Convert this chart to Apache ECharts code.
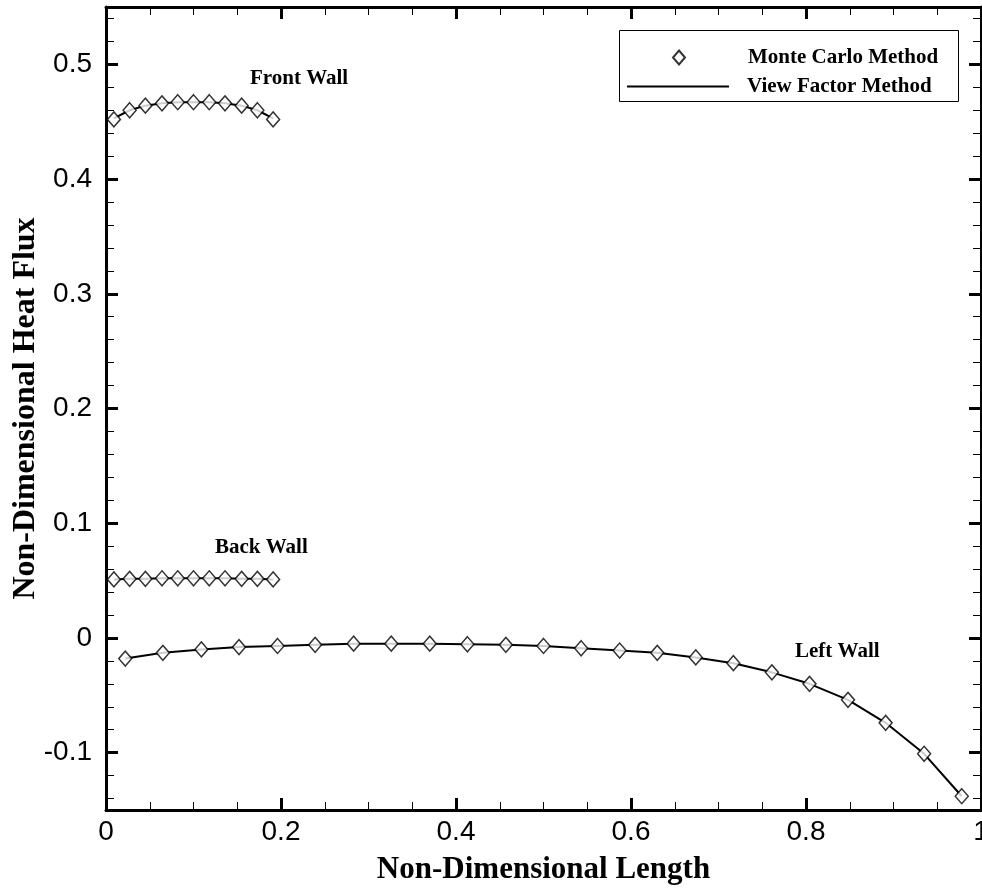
<!DOCTYPE html>
<html lang="en">
<head>
<meta charset="UTF-8">
<script src="https://cdn.jsdelivr.net/npm/echarts@6/dist/echarts.min.js"></script>
<title>Heat Flux</title>
<style>html,body{margin:0;padding:0;background:#fff;}</style>
</head>
<body>
<div id="chart" style="width:982px;height:890px;"></div>
<script>
// x positions of the front / back wall cells
var wallX = [0.009, 0.027, 0.045, 0.064, 0.082, 0.100, 0.118, 0.136, 0.155, 0.173, 0.191];
var frontMC = [0.452, 0.460, 0.464, 0.466, 0.467, 0.467, 0.467, 0.466, 0.464, 0.460, 0.452];
var frontVF = [0.453, 0.460, 0.464, 0.466, 0.467, 0.467, 0.467, 0.466, 0.464, 0.460, 0.453];
var backMC = [0.051, 0.0515, 0.0515, 0.052, 0.052, 0.052, 0.052, 0.052, 0.0515, 0.0515, 0.051];
var backVF = [0.051, 0.0515, 0.0515, 0.052, 0.052, 0.052, 0.052, 0.052, 0.0515, 0.0515, 0.051];

// x positions of the left wall cells
var leftX = [0.022, 0.065, 0.109, 0.152, 0.196, 0.239, 0.283, 0.326, 0.370, 0.413, 0.457, 0.500,
             0.543, 0.587, 0.630, 0.674, 0.717, 0.761, 0.804, 0.848, 0.891, 0.935, 0.978];
var leftMC = [-0.018, -0.013, -0.010, -0.008, -0.007, -0.006, -0.005, -0.005, -0.005, -0.0055, -0.006, -0.007,
              -0.009, -0.011, -0.013, -0.017, -0.022, -0.030, -0.040, -0.054, -0.074, -0.101, -0.138];
var leftVF = [-0.018, -0.013, -0.010, -0.008, -0.007, -0.006, -0.005, -0.005, -0.005, -0.0055, -0.006, -0.007,
              -0.009, -0.011, -0.013, -0.017, -0.022, -0.030, -0.040, -0.054, -0.074, -0.101, -0.138];

var MC = 'Monte Carlo Method';
var VF = 'View Factor Method';

function pairs(xs, ys) {
    return xs.map(function (x, i) { return [x, ys[i]]; });
}

var serif = '"Liberation Serif", "Times New Roman", serif';
var sans = '"Liberation Sans", Arial, sans-serif';

function lineSeries(xs, ys) {
    return {
        name: VF, type: 'line', data: pairs(xs, ys),
        symbol: 'none', showSymbol: false, z: 2, animation: false,
        itemStyle: {color: '#000'},
        lineStyle: {color: '#000', width: 2}
    };
}
function dotSeries(xs, ys) {
    return {
        name: MC, type: 'scatter', data: pairs(xs, ys),
        symbol: 'diamond', symbolSize: [13, 15], z: 3, animation: false,
        itemStyle: {color: '#fff', borderColor: '#000', borderWidth: 1.5}
    };
}

function xAxisOf(pos, showLabel) {
    return {
        type: 'value', position: pos, min: 0, max: 1, interval: 0.2,
        axisLine: {show: true, onZero: false, lineStyle: {color: '#000', width: 3}},
        axisTick: {show: true, inside: true, length: 12, lineStyle: {color: '#000', width: 3}},
        minorTick: {show: true, splitNumber: 4, length: 8, lineStyle: {color: '#000', width: 1}},
        splitLine: {show: false},
        axisLabel: {show: showLabel, color: '#000', fontFamily: sans, fontSize: 28, margin: 8},
        name: showLabel ? 'Non-Dimensional Length' : '',
        nameLocation: 'middle', nameGap: 44, nameMoveOverlap: false,
        nameTextStyle: {color: '#000', fontFamily: serif, fontWeight: 'bold', fontSize: 31}
    };
}
function yAxisOf(pos, showLabel) {
    return {
        type: 'value', position: pos, min: -0.15, max: 0.55, splitNumber: 7,
        axisLine: {show: true, onZero: false, lineStyle: {color: '#000', width: 3}},
        axisTick: {show: true, inside: true, length: 12, lineStyle: {color: '#000', width: 3}},
        minorTick: {show: true, splitNumber: 5, length: 8, lineStyle: {color: '#000', width: 1}},
        splitLine: {show: false},
        axisLabel: {
            show: showLabel, color: '#000', fontFamily: sans, fontSize: 28, margin: 14,
            formatter: function (v) {
                var t = Math.round(v * 10);
                return Math.abs(v * 10 - t) < 1e-6 ? String(t / 10) : '';
            }
        },
        name: showLabel ? 'Non-Dimensional Heat Flux' : '',
        nameLocation: 'middle', nameGap: 64, nameMoveOverlap: false,
        nameTextStyle: {color: '#000', fontFamily: serif, fontWeight: 'bold', fontSize: 32}
    };
}

var legendText = {color: '#000', fontFamily: serif, fontWeight: 'bold', fontSize: 21};

var chart = echarts.init(document.getElementById('chart'));
chart.setOption({
    backgroundColor: '#fff',
    animation: false,
    grid: {left: 106, right: 1, top: 7, bottom: 80, containLabel: false, outerBoundsMode: 'none'},
    xAxis: [xAxisOf('bottom', true), xAxisOf('top', false)],
    yAxis: [yAxisOf('left', true), yAxisOf('right', false)],
    legend: [
        {
            data: [{name: MC, icon: 'diamond'}],
            left: 672, top: 47, padding: 0,
            itemWidth: 12, itemHeight: 14, symbolKeepAspect: true,
            textStyle: Object.assign({padding: [0, 0, 0, 58]}, legendText)
        },
        {
            data: [{name: VF, icon: 'rect', itemStyle: {color: '#000', borderWidth: 0}}],
            left: 627, top: 76, padding: 0,
            itemWidth: 102, itemHeight: 2,
            textStyle: Object.assign({padding: [0, 0, 0, 13]}, legendText)
        }
    ],
    graphic: [
        {type: 'rect', left: 617, top: 28, z: 10,
         shape: {width: 339, height: 71}, style: {fill: 'none', stroke: '#000', lineWidth: 1}},
        {type: 'text', left: 250, top: 68, style: {text: 'Front Wall', font: 'bold 21px ' + serif, fill: '#000'}},
        {type: 'text', left: 215, top: 537, style: {text: 'Back Wall', font: 'bold 21px ' + serif, fill: '#000'}},
        {type: 'text', left: 795, top: 641, style: {text: 'Left Wall', font: 'bold 21px ' + serif, fill: '#000'}}
    ],
    series: [
        lineSeries(wallX, frontVF), dotSeries(wallX, frontMC),
        lineSeries(wallX, backVF), dotSeries(wallX, backMC),
        lineSeries(leftX, leftVF), dotSeries(leftX, leftMC)
    ]
});
</script>
</body>
</html>
